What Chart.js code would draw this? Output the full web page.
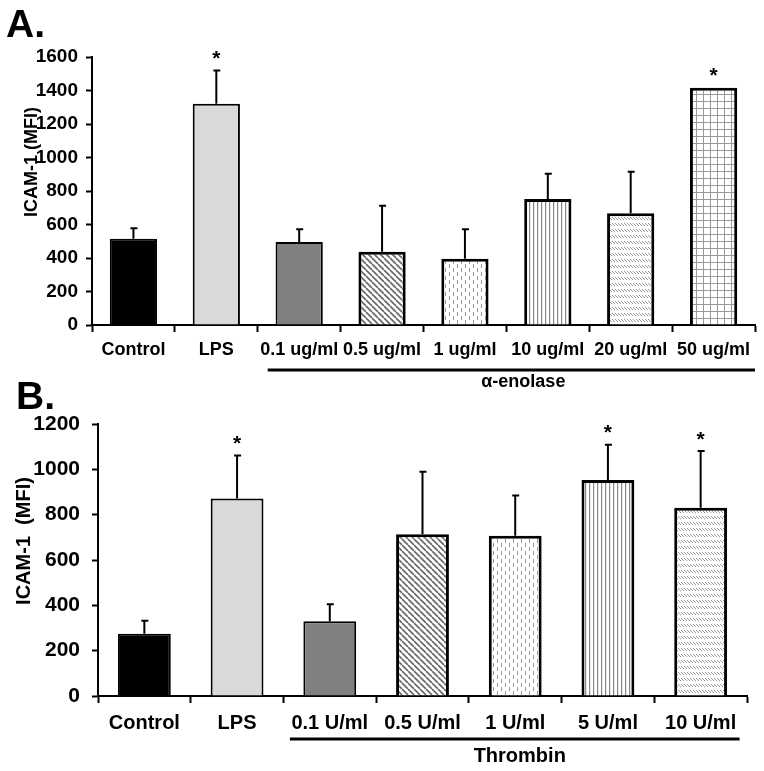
<!DOCTYPE html>
<html>
<head>
<meta charset="utf-8">
<script src="https://cdn.jsdelivr.net/npm/chart.js@4"></script>
<style>
body { margin:0; background:#fff; width:764px; height:771px; position:relative; overflow:hidden; font-family:"Liberation Sans", Arial, sans-serif; }
.panel { position:absolute; left:0; width:764px; }
.letra { position:absolute; font-weight:bold; font-size:39px; color:#000; }
</style>
</head>
<body>
<div class="panel" style="top:0;height:395px"><canvas id="chartA"></canvas></div>
<div class="panel" style="top:395px;height:376px"><canvas id="chartB"></canvas></div>
<div class="letra" style="left:6px;top:2px">A.</div>
<div class="letra" style="left:16px;top:374px">B.</div>
<script>
// panel A: alpha-enolase
const etiquetasA = ['Control', 'LPS', '0.1 ug/ml', '0.5 ug/ml', '1 ug/ml', '10 ug/ml', '20 ug/ml', '50 ug/ml'];
const valoresA = [515, 1321, 495, 437, 396, 752, 667, 1417];
const erroresA = [63, 199, 76, 275, 175, 151, 248, 0];
const estrellasA = [false, true, false, false, false, false, false, true];
const rellenosA = ['negro', 'claro', 'gris', 'diag', 'guion', 'vert', 'filas', 'rejilla'];
const ticksA = [0, 200, 400, 600, 800, 1000, 1200, 1400, 1600];

// panel B: thrombin
const etiquetasB = ['Control', 'LPS', '0.1 U/ml', '0.5 U/ml', '1 U/ml', '5 U/ml', '10 U/ml'];
const valoresB = [275, 871, 330, 714, 707, 953, 831];
const erroresB = [57, 190, 75, 275, 178, 156, 250];
const estrellasB = [false, true, false, false, false, true, true];
const rellenosB = ['negro', 'claro', 'gris', 'diag', 'guion', 'vert', 'filas'];
const ticksB = [0, 200, 400, 600, 800, 1000, 1200];

const fuente = '"Liberation Sans", Arial, sans-serif';

// patrones de relleno
const patron = (tipo) => {
    if (tipo === 'negro') return '#000000';
    if (tipo === 'claro') return '#d9d9d9';
    if (tipo === 'gris') return '#808080';
    const c = document.createElement('canvas');
    const g = c.getContext('2d');
    if (tipo === 'diag') {
        c.width = 6; c.height = 6;
        g.fillStyle = '#fff'; g.fillRect(0, 0, 6, 6);
        g.strokeStyle = '#666'; g.lineWidth = 1.6;
        for (const o of [-6, 0, 6]) {
            g.beginPath(); g.moveTo(o, 0); g.lineTo(o + 6, 6); g.stroke();
        }
    } else if (tipo === 'guion') {
        c.width = 8; c.height = 8;
        g.fillStyle = '#fff'; g.fillRect(0, 0, 8, 8);
        g.fillStyle = '#999';
        g.fillRect(1, 0, 1, 4);
        g.fillRect(5, 4, 1, 4);
    } else if (tipo === 'vert') {
        c.width = 4; c.height = 4;
        g.fillStyle = '#fff'; g.fillRect(0, 0, 4, 4);
        g.fillStyle = '#888';
        g.fillRect(1, 0, 1.2, 4);
    } else if (tipo === 'filas') {
        c.width = 3; c.height = 6;
        g.fillStyle = '#fff'; g.fillRect(0, 0, 3, 6);
        g.strokeStyle = '#999'; g.lineWidth = 1;
        g.beginPath(); g.moveTo(0, 1); g.lineTo(3, 4); g.stroke();
    } else if (tipo === 'rejilla') {
        c.width = 7; c.height = 7;
        g.fillStyle = '#fff'; g.fillRect(0, 0, 7, 7);
        g.fillStyle = '#999';
        g.fillRect(0, 3, 7, 1);
        g.fillRect(3, 0, 1, 7);
    }
    return g.createPattern(c, 'repeat');
};

// barras de error, asteriscos, linea de grupo y titulo del eje
const extras = {
    id: 'extras',
    afterDatasetsDraw(chart, args, o) {
        const ctx = chart.ctx;
        const x = chart.scales.x;
        const y = chart.scales.y;
        const meta = chart.getDatasetMeta(0);
        ctx.save();
        ctx.strokeStyle = '#000';
        ctx.fillStyle = '#000';
        ctx.lineWidth = 2;
        meta.data.forEach((bar, i) => {
            const tope = o.valores[i] + o.errores[i];
            if (o.errores[i] > 0) {
                const y0 = y.getPixelForValue(o.valores[i]);
                const y1 = y.getPixelForValue(tope);
                ctx.beginPath();
                ctx.moveTo(bar.x, y0); ctx.lineTo(bar.x, y1);
                ctx.moveTo(bar.x - 3, y1); ctx.lineTo(bar.x + 4, y1);
                ctx.stroke();
            }
            if (o.estrellas[i]) {
                ctx.font = 'bold 21px ' + fuente;
                ctx.textAlign = 'center';
                ctx.textBaseline = 'middle';
                ctx.fillText('*', bar.x, y.getPixelForValue(tope) - 11);
            }
        });
        const w = x.getPixelForValue(1) - x.getPixelForValue(0);
        const x0 = x.getPixelForValue(o.desde) - w * o.margenIzq;
        const x1 = x.getPixelForValue(o.hasta) + w * o.margenDer;
        const base = chart.chartArea.bottom;
        ctx.lineWidth = 3;
        ctx.beginPath();
        ctx.moveTo(x0, base + o.lineaY); ctx.lineTo(x1, base + o.lineaY);
        ctx.stroke();
        ctx.font = 'bold ' + o.tamGrupo + 'px ' + fuente;
        ctx.textAlign = 'center';
        ctx.textBaseline = 'middle';
        ctx.fillText(o.grupo, (x0 + x1) / 2 + o.corrGrupo, base + o.textoY);
        ctx.translate(o.tituloX, o.tituloY);
        ctx.rotate(-Math.PI / 2);
        ctx.font = 'bold ' + o.tamTitulo + 'px ' + fuente;
        ctx.fillText(o.titulo, 0, 0);
        ctx.restore();
    }
};

const graficar = (id, d) => {
    new Chart(document.getElementById(id), {
        type: 'bar',
        data: {
            labels: d.etiquetas,
            datasets: [{
                data: d.valores,
                backgroundColor: d.rellenos.map(patron),
                borderColor: '#000',
                borderWidth: d.rellenos.map(r => (r === 'negro' || r === 'claro' || r === 'gris') ? 2 : 3),
                barPercentage: 0.57,
                categoryPercentage: 1
            }]
        },
        plugins: [extras],
        options: {
            responsive: true,
            maintainAspectRatio: false,
            animation: false,
            layout: { padding: { top: d.arriba, right: d.derecha, left: 0, bottom: 0 } },
            plugins: {
                legend: { display: false },
                tooltip: { enabled: false },
                extras: d.extras
            },
            scales: {
                x: {
                    offset: true,
                    grid: { offset: true, drawOnChartArea: false, tickLength: 7, tickWidth: 2, tickColor: '#000' },
                    border: { color: '#000', width: 2 },
                    ticks: { color: '#000', font: { family: fuente, size: d.tamX, weight: 'bold' }, padding: d.padX, maxRotation: 0, minRotation: 0, autoSkip: false },
                    afterFit: s => { s.height = d.altoX; }
                },
                y: {
                    min: 0,
                    max: d.ticks[d.ticks.length - 1],
                    afterBuildTicks: s => { s.ticks = d.ticks.map(v => ({ value: v })); },
                    grid: { drawOnChartArea: false, tickLength: 6, tickWidth: 2, tickColor: '#000' },
                    border: { color: '#000', width: 2 },
                    ticks: {
                        color: '#000',
                        font: { family: fuente, size: d.tamY, weight: 'bold' },
                        padding: d.padY,
                        callback: v => String(v)
                    },
                    afterFit: s => { s.width = d.anchoY; }
                }
            }
        }
    });
};

graficar('chartA', {
    etiquetas: etiquetasA, valores: valoresA, rellenos: rellenosA, ticks: ticksA,
    arriba: 57, derecha: 9, altoX: 70, anchoY: 92, tamX: 18, tamY: 19, padX: 7, padY: 8,
    extras: {
        valores: valoresA, errores: erroresA, estrellas: estrellasA,
        desde: 2, hasta: 7, margenIzq: 0.38, margenDer: 0.5, lineaY: 45, textoY: 57,
        grupo: 'α-enolase', tamGrupo: 18, corrGrupo: 12,
        titulo: 'ICAM-1 (MFI)', tamTitulo: 18, tituloX: 32, tituloY: 162
    }
});

graficar('chartB', {
    etiquetas: etiquetasB, valores: valoresB, rellenos: rellenosB, ticks: ticksB,
    arriba: 29, derecha: 17, altoX: 75, anchoY: 98, tamX: 20, tamY: 21, padX: 8, padY: 12,
    extras: {
        valores: valoresB, errores: erroresB, estrellas: estrellasB,
        desde: 2, hasta: 6, margenIzq: 0.43, margenDer: 0.42, lineaY: 43, textoY: 60,
        grupo: 'Thrombin', tamGrupo: 20, corrGrupo: 5,
        titulo: 'ICAM-1  (MFI)', tamTitulo: 20, tituloX: 24, tituloY: 146
    }
});
</script>
</body>
</html>
